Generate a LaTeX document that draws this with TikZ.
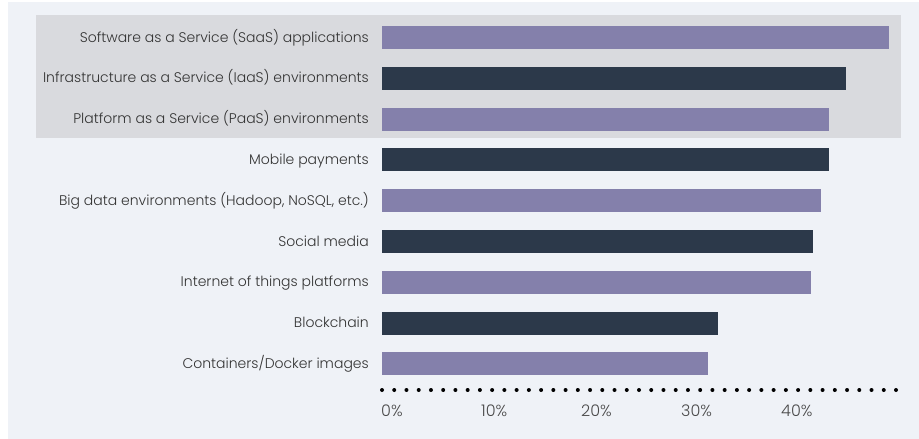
\documentclass[tikz,border=0pt]{standalone}
\usepackage{fontspec}
\IfFontExistsTF{Poppins Light}{\setmainfont{Poppins Light}}{\setmainfont{Poppins}}
\definecolor{bgc}{HTML}{EFF2F7}
\definecolor{hlc}{HTML}{D9DADE}
\definecolor{purp}{HTML}{8480AB}
\definecolor{navy}{HTML}{2C394A}
\definecolor{labc}{HTML}{333333}
\definecolor{tickc}{HTML}{4A4A4A}
\begin{document}
\begin{tikzpicture}[x=1pt,y=-1pt,
  lab/.style={anchor=base east, text=labc, inner sep=0pt, font=\fontsize{14}{16}\selectfont},
  ticklab/.style={anchor=base west, text=tickc, inner sep=0pt, font=\fontsize{16}{18}\selectfont},
  bardot/.style={fill=black}]
\useasboundingbox (0,0) rectangle (919,439);
\fill[white] (0,0) rectangle (919,439);
\fill[bgc] (8,2) rectangle (919,439);
\fill[hlc] (36,15) rectangle (901,138);
\foreach \t/\e/\c [count=\i from 0] in {
  {Software as a Service (SaaS) applications}/889/purp,
  {Infrastructure as a Service (IaaS) environments}/846/navy,
  {Platform as a Service (PaaS) environments}/829/purp,
  {Mobile payments}/829/navy,
  {Big data environments (Hadoop, NoSQL, etc.)}/821/purp,
  {Social media}/813/navy,
  {Internet of things platforms}/811/purp,
  {Blockchain}/718/navy,
  {Containers/Docker images}/708/purp}{
  \fill[\c] (382,{26+40.8*\i}) rectangle (\e,{49+40.8*\i});
  \node[lab] (l\i) at (369,{42+40.8*\i}) {\t};
}
\foreach \k in {0,...,42}{
  \fill[bardot] ({382+12.238*\k},390) circle (2);
}
\foreach \v [count=\j from 0] in {0,10,20,30,40}{
  \node[ticklab] (t\j) at ({381+100*\j},416) {\v\%};
}
\end{tikzpicture}
\end{document}
